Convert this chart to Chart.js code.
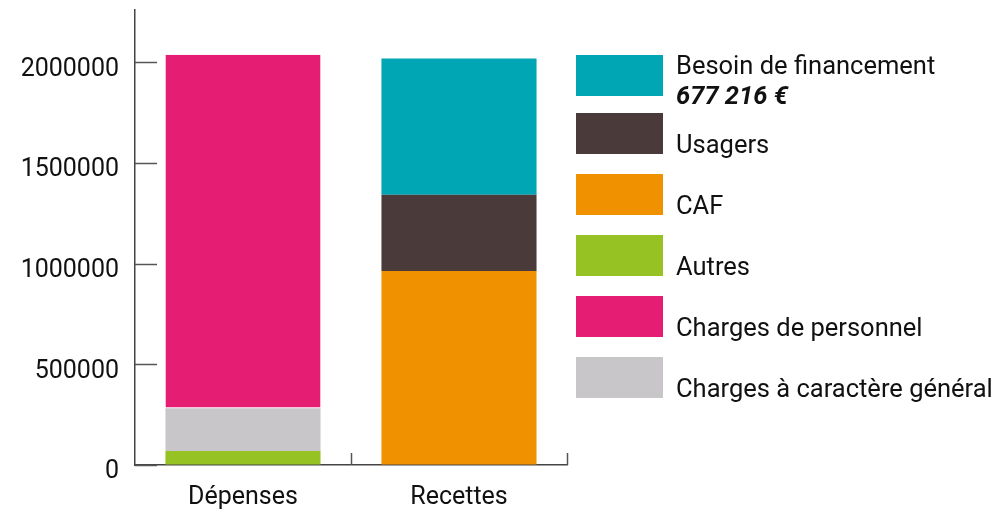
<!DOCTYPE html>
<html>
<head>
<meta charset="utf-8">
<script src="https://cdn.jsdelivr.net/npm/chart.js@4/dist/chart.umd.min.js"></script>
<style>
  body { margin: 0; background: #fff; font-family: Roboto, sans-serif; }
  #wrap { position: relative; width: 998px; height: 509px; }
  #legende { position: absolute; left: 0; top: 0; }
  .item { position: absolute; left: 0; }
  .boite { position: absolute; left: 576px; top: 0; width: 87px; height: 41px; }
  .texte { position: absolute; left: 676px; white-space: nowrap; font-size: 25.5px; line-height: 30px; color: #111; }
  .texte b { font-weight: 700; font-style: italic; }
</style>
</head>
<body>
<div id="wrap">
  <canvas id="myChart" width="998" height="509"></canvas>
  <div id="legende"></div>
</div>
<script>
// categories et valeurs (en euros)
const categories = ['Dépenses', 'Recettes'];
const autres = [70000, null];
const chargesGenerales = [212000, null];
const chargesPersonnel = [1756000, null];
const caf = [null, 964000];
const usagers = [null, 378000];
const besoin = [null, 677216];
const besoinTexte = '677 216 €';
const yTicks = [0, 500000, 1000000, 1500000, 2000000];

const couleurs = {
  autres: '#97c224',
  generales: '#c8c6c9',
  personnel: '#e61e73',
  caf: '#f09100',
  usagers: '#4a3b3a',
  besoin: '#00a6b4'
};

// petites marques de graduation vers l'intérieur
const marques = {
  id: 'marques',
  afterDraw(chart) {
    const ctx = chart.ctx, x = chart.scales.x, y = chart.scales.y;
    ctx.save();
    ctx.strokeStyle = '#555';
    ctx.lineWidth = 1.5;
    y.ticks.forEach(t => {
      const py = Math.round(y.getPixelForValue(t.value)) + 0.5;
      ctx.beginPath(); ctx.moveTo(x.left, py); ctx.lineTo(x.left + 22, py); ctx.stroke();
    });
    const n = categories.length, w = x.width / n;
    for (let i = 1; i <= n; i++) {
      const px = Math.round(x.left + i * w) + 0.5;
      ctx.beginPath(); ctx.moveTo(px, y.bottom); ctx.lineTo(px, y.bottom - 12); ctx.stroke();
    }
    ctx.restore();
  }
};

const barre = { categoryPercentage: 1, barPercentage: 0.718, borderWidth: 0 };

const canva = document.getElementById('myChart');
const myChart = new Chart(canva, {
  type: 'bar',
  data: {
    labels: categories,
    datasets: [
      { ...barre, label: 'Autres', data: autres, backgroundColor: couleurs.autres },
      { ...barre, label: 'Charges à caractère général', data: chargesGenerales, backgroundColor: couleurs.generales },
      { ...barre, label: 'Charges de personnel', data: chargesPersonnel, backgroundColor: couleurs.personnel,
        borderColor: '#fff', borderWidth: { bottom: 1 }, borderSkipped: false },
      { ...barre, label: 'CAF', data: caf, backgroundColor: couleurs.caf },
      { ...barre, label: 'Usagers', data: usagers, backgroundColor: couleurs.usagers },
      { ...barre, label: 'Besoin de financement', data: besoin, backgroundColor: couleurs.besoin }
    ]
  },
  options: {
    responsive: false,
    animation: false,
    layout: { padding: { top: 10, right: 431, left: 0, bottom: 0 } },
    plugins: { legend: { display: false }, tooltip: { enabled: false } },
    scales: {
      x: {
        stacked: true,
        afterFit: s => { s.height = 44; s.paddingLeft = 0; s.paddingRight = 0; },
        grid: { display: false, offset: true },
        border: { display: true, color: '#444', width: 1.5 },
        ticks: { color: '#111', font: { family: 'Roboto', size: 25 }, padding: 10 }
      },
      y: {
        stacked: true,
        min: 0,
        max: 2260000,
        afterFit: s => { s.width = 135; s.paddingTop = 0; s.paddingBottom = 0; },
        afterBuildTicks: s => { s.ticks = yTicks.map(v => ({ value: v })); },
        grid: { drawOnChartArea: false, drawTicks: false },
        border: { display: true, color: '#444', width: 1.5 },
        ticks: { color: '#111', font: { family: 'Roboto', size: 25 }, padding: 16, labelOffset: 7,
          callback: v => String(v) }
      }
    }
  },
  plugins: [marques]
});

// légende à droite
const legende = [
  { couleur: couleurs.besoin, texte: 'Besoin de financement', montant: besoinTexte, haut: 55 },
  { couleur: couleurs.usagers, texte: 'Usagers', haut: 113 },
  { couleur: couleurs.caf, texte: 'CAF', haut: 174 },
  { couleur: couleurs.autres, texte: 'Autres', haut: 235 },
  { couleur: couleurs.personnel, texte: 'Charges de personnel', haut: 296 },
  { couleur: couleurs.generales, texte: 'Charges à caractère général', haut: 357 }
];
const boiteLegende = document.getElementById('legende');
legende.forEach(el => {
  const item = document.createElement('div');
  item.className = 'item';
  item.style.top = el.haut + 'px';
  const boite = document.createElement('div');
  boite.className = 'boite';
  boite.style.background = el.couleur;
  const texte = document.createElement('div');
  texte.className = 'texte';
  if (el.montant) {
    texte.style.top = '-5px';
    texte.innerHTML = el.texte + '<br><b>' + el.montant + '</b>';
  } else {
    texte.style.top = '16px';
    texte.textContent = el.texte;
  }
  item.appendChild(boite);
  item.appendChild(texte);
  boiteLegende.appendChild(item);
});
</script>
</body>
</html>
